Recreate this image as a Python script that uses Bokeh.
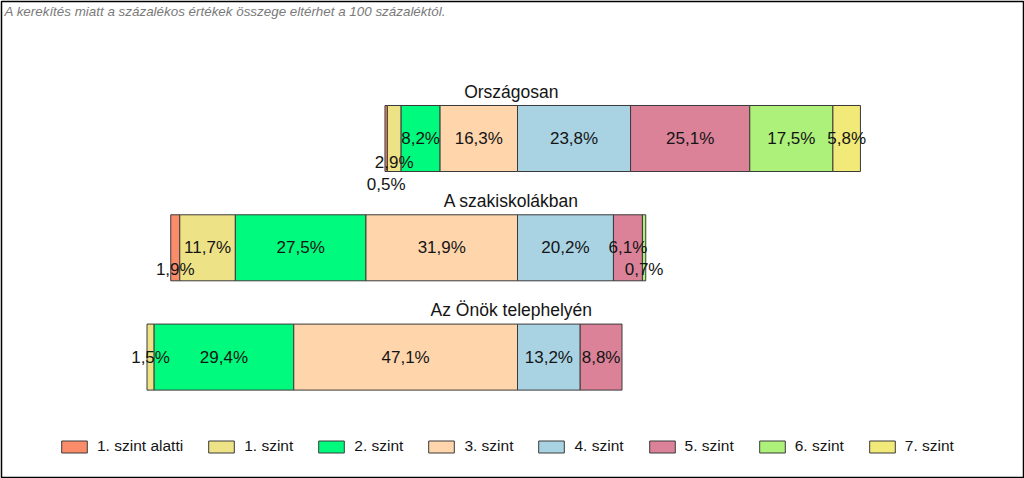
from bokeh.plotting import figure
from bokeh.models import ColumnDataSource, Range1d, Legend, LegendItem, Label
from bokeh.core.properties import value
from bokeh.embed import file_html
from bokeh.resources import INLINE

# ---- data ----
groups = ["Országosan", "A szakiskolákban", "Az Önök telephelyén"]
levels = ["1. szint alatti", "1. szint", "2. szint", "3. szint",
          "4. szint", "5. szint", "6. szint", "7. szint"]
orszagosan = [0.5, 2.9, 8.2, 16.3, 23.8, 25.1, 17.5, 5.8]
szakiskolak = [1.9, 11.7, 27.5, 31.9, 20.2, 6.1, 0.7, 0.0]
telephely = [0.0, 1.5, 29.4, 47.1, 13.2, 8.8, 0.0, 0.0]
note = "A kerekítés miatt a  százalékos értékek összege eltérhet a 100 százaléktól."

# ---- style ----
colors = ["#FA8C6A", "#EEE287", "#00FA7D", "#FFD5AC",
          "#A9D3E3", "#DB8298", "#ADF07A", "#F2EA78"]
label_dy = {(0, 0): 46, (0, 1): 24, (1, 0): 22, (1, 6): 22}  # px shifts of crowded labels
SPLIT = 4  # levels before this index extend to the left of the axis
FONT = "Liberation Sans"

W, H = 1024, 478
FW, FH = W - 2, H - 2
PX_PER = 4.75      # pixels per percent
X0 = 516           # frame px of the 3./4. szint boundary
Y0 = 137           # frame px of the first bar centre
ROW = 109.3        # px between bars

rows = [orszagosan, szakiskolak, telephely]

p = figure(width=W, height=H, min_border=1,
           x_range=Range1d(-X0 / PX_PER, (FW - X0) / PX_PER),
           y_range=Range1d((FH - Y0) / ROW, -Y0 / ROW),
           x_axis_location=None, y_axis_location=None,
           output_backend="svg", toolbar_location=None)
p.grid.visible = False
p.outline_line_color = "black"
p.outline_line_width = 1.5
p.background_fill_color = "white"
p.border_fill_color = "white"

# segments
seg = {k: dict(y=[], left=[], right=[]) for k in range(len(levels))}
lab = dict(x=[], y=[], text=[], dy=[])
for i, row in enumerate(rows):
    cum = -sum(row[:SPLIT])
    for k, v in enumerate(row):
        start, end = cum, cum + v
        cum = end
        if v <= 0:
            continue
        seg[k]["y"].append(i)
        seg[k]["left"].append(start)
        seg[k]["right"].append(end)
        lab["x"].append((start + end) / 2)
        lab["y"].append(i)
        lab["text"].append(f"{v:.1f}".replace(".", ",") + "%")
        lab["dy"].append(label_dy.get((i, k), 0))

items = []
for k, name in enumerate(levels):
    r = p.hbar(y="y", left="left", right="right", height=0.604,
               source=ColumnDataSource(seg[k]), fill_color=colors[k],
               line_color="#3a3a3a", line_width=1)
    items.append(LegendItem(label=name, renderers=[r]))

p.text(x="x", y="y", text="text", y_offset="dy", source=ColumnDataSource(lab),
       text_align="center", text_baseline="middle",
       text_font=value(FONT), text_font_size="17px", text_color="#141414")

# group titles
title_x = -1.3
p.text(x=[title_x] * len(groups), y=list(range(len(groups))), text=groups,
       y_offset=-47, text_align="center", text_baseline="middle",
       text_font=value(FONT), text_font_size="17.5px", text_color="#141414")

p.add_layout(Label(x=3, y=FH - 10, x_units="screen", y_units="screen", text=note,
                   text_font=FONT, text_font_style="italic", text_font_size="13.4px",
                   text_color="#7a7a7a", text_baseline="middle"))

legend = Legend(items=items, orientation="horizontal", location=(57, 22),
                glyph_width=32, glyph_height=15, label_standoff=7, spacing=22,
                padding=0, margin=0, border_line_color=None,
                background_fill_alpha=0, label_text_font=FONT,
                label_text_font_size="15.5px", label_text_color="#141414")
p.add_layout(legend)

open("out.html", "w").write(file_html(p, INLINE))
